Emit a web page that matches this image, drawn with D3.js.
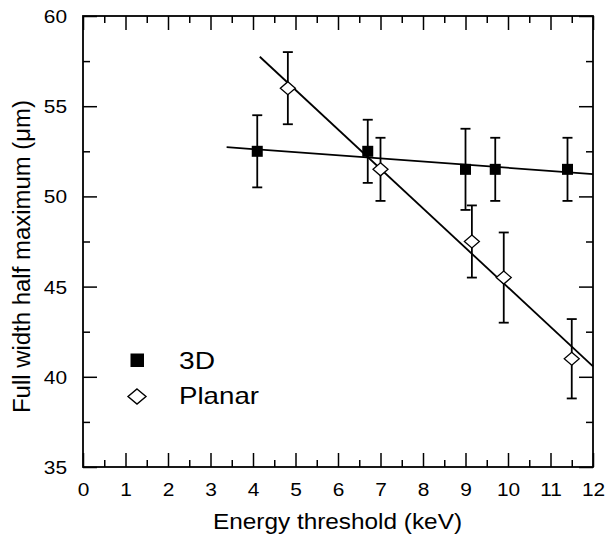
<!DOCTYPE html>
<html>
<head>
<meta charset="utf-8">
<script src="https://cdn.jsdelivr.net/npm/d3@7"></script>
<style>
  body { margin: 0; background: #fff; }
  svg { display: block; font-family: "Liberation Sans", Arial, sans-serif; }
</style>
</head>
<body>
<div id="chart"></div>
<script>
// values
const energy3D = [4.1, 6.7, 9.0, 9.7, 11.4];
const fwhm3D = [52.5, 52.5, 51.5, 51.5, 51.5];
const err3D = [2.0, 1.75, 2.25, 1.75, 1.75];

const energyPlanar = [4.82, 7.0, 9.15, 9.9, 11.5];
const fwhmPlanar = [56.0, 51.5, 47.5, 45.5, 41.0];
const errPlanar = [2.0, 1.75, 2.0, 2.5, 2.2];

// x-extent of each fitted line
const fitRange3D = [3.38, 12];
const fitRangePlanar = [4.16, 12];

const xTicks = d3.range(0, 13, 1);
const xMinor = d3.range(0.5, 12, 1);
const yTicks = [35, 40, 45, 50, 55, 60];
const yMinor = [37.5, 42.5, 47.5, 52.5, 57.5];

const legendLabels = ["3D", "Planar"];

const width = 605, height = 535;
const margin = { left: 83, right: 12, top: 16, bottom: 68 };
const stretch = 1.13;

const svg = d3.select("#chart").append("svg")
    .attr("width", width)
    .attr("height", height);

const x = d3.scaleLinear().domain([0, 12]).range([margin.left, width - margin.right]);
const y = d3.scaleLinear().domain([35, 60]).range([height - margin.bottom, margin.top]);

// least squares fit
function fit(xs, ys) {
    const mx = d3.mean(xs), my = d3.mean(ys);
    let sxy = 0, sxx = 0;
    xs.forEach((v, i) => { sxy += (v - mx) * (ys[i] - my); sxx += (v - mx) * (v - mx); });
    const b = sxy / sxx;
    return v => my + b * (v - mx);
}

// axes, ticks pointing inward on all four sides
const axisG = svg.append("g");
function addAxis(axis, tx, ty, size, vals) {
    const g = axisG.append("g")
        .attr("transform", `translate(${tx},${ty})`)
        .call(axis.tickValues(vals).tickSize(-size).tickFormat(""));
    g.select(".domain").remove();
    g.selectAll("line").attr("stroke", "#000").attr("stroke-width", 1.5);
    return g;
}
const xb = addAxis(d3.axisBottom(x), 0, y(35), 14, xTicks);
addAxis(d3.axisBottom(x), 0, y(35), 7, xMinor);
addAxis(d3.axisTop(x), 0, y(60), 14, xTicks);
addAxis(d3.axisTop(x), 0, y(60), 7, xMinor);
const yl = addAxis(d3.axisLeft(y), x(0), 0, 14, yTicks);
addAxis(d3.axisLeft(y), x(0), 0, 7, yMinor);
addAxis(d3.axisRight(y), x(12), 0, 14, yTicks);
addAxis(d3.axisRight(y), x(12), 0, 7, yMinor);

xb.selectAll(".tick text")
    .text(d => d)
    .attr("y", 16)
    .attr("dy", "0.71em")
    .attr("font-size", 18.5)
    .attr("fill", "#000")
    .attr("transform", `scale(${stretch},1)`);

yl.selectAll(".tick text")
    .text(d => d)
    .attr("x", -16 / stretch)
    .attr("dy", "0.35em")
    .attr("font-size", 18.5)
    .attr("fill", "#000")
    .attr("transform", `scale(${stretch},1)`);

axisG.append("rect")
    .attr("x", x(0)).attr("y", y(60))
    .attr("width", x(12) - x(0)).attr("height", y(35) - y(60))
    .attr("fill", "none").attr("stroke", "#000").attr("stroke-width", 1.8);

// axis titles
svg.append("text")
    .attr("x", 213).attr("y", 529)
    .attr("font-size", 21.5)
    .attr("textLength", 249)
    .attr("lengthAdjust", "spacingAndGlyphs")
    .text("Energy threshold (keV)");

svg.append("text")
    .attr("transform", "translate(30,413) rotate(-90)")
    .attr("font-size", 23.5)
    .attr("textLength", 313)
    .attr("lengthAdjust", "spacingAndGlyphs")
    .text("Full width half maximum (\u03bcm)");

// fitted lines
const f3 = fit(energy3D, fwhm3D);
const fp = fit(energyPlanar, fwhmPlanar);
const line = d3.line().x(d => x(d[0])).y(d => y(d[1]));
svg.append("path")
    .attr("d", line(fitRange3D.map(v => [v, f3(v)])))
    .attr("fill", "none").attr("stroke", "#000").attr("stroke-width", 1.8);
svg.append("path")
    .attr("d", line(fitRangePlanar.map(v => [v, fp(v)])))
    .attr("fill", "none").attr("stroke", "#000").attr("stroke-width", 1.8);

// error bars
function errorBars(xs, ys, es) {
    const g = svg.append("g").attr("stroke", "#000").attr("stroke-width", 1.8);
    xs.forEach((v, i) => {
        const cx = x(v), top = y(ys[i] + es[i]), bot = y(ys[i] - es[i]);
        g.append("line").attr("x1", cx).attr("x2", cx).attr("y1", top).attr("y2", bot);
        g.append("line").attr("x1", cx - 5).attr("x2", cx + 5).attr("y1", top).attr("y2", top);
        g.append("line").attr("x1", cx - 5).attr("x2", cx + 5).attr("y1", bot).attr("y2", bot);
    });
}
errorBars(energy3D, fwhm3D, err3D);
errorBars(energyPlanar, fwhmPlanar, errPlanar);

// markers
function diamond(cx, cy, w, h) {
    return `M${cx},${cy - h / 2}L${cx + w / 2},${cy}L${cx},${cy + h / 2}L${cx - w / 2},${cy}Z`;
}
svg.append("g").selectAll("rect")
    .data(energy3D)
    .join("rect")
    .attr("x", d => x(d) - 5.5)
    .attr("y", (d, i) => y(fwhm3D[i]) - 5.5)
    .attr("width", 11).attr("height", 11)
    .attr("fill", "#000");

svg.append("g").selectAll("path")
    .data(energyPlanar)
    .join("path")
    .attr("d", (d, i) => diamond(x(d), y(fwhmPlanar[i]), 15, 13))
    .attr("fill", "#fff").attr("stroke", "#000").attr("stroke-width", 1.3);

// legend
const legend = svg.append("g");
legend.append("rect")
    .attr("x", 130.5).attr("y", 353.5).attr("width", 13.5).attr("height", 13.5)
    .attr("fill", "#000");
legend.append("path")
    .attr("d", diamond(137, 396.5, 18, 15))
    .attr("fill", "#fff").attr("stroke", "#000").attr("stroke-width", 1.4);
legend.append("text")
    .attr("x", 179).attr("y", 368.5)
    .attr("font-size", 24)
    .attr("textLength", 36)
    .attr("lengthAdjust", "spacingAndGlyphs")
    .text(legendLabels[0]);
legend.append("text")
    .attr("x", 179).attr("y", 404)
    .attr("font-size", 24)
    .attr("textLength", 80)
    .attr("lengthAdjust", "spacingAndGlyphs")
    .text(legendLabels[1]);
</script>
</body>
</html>
